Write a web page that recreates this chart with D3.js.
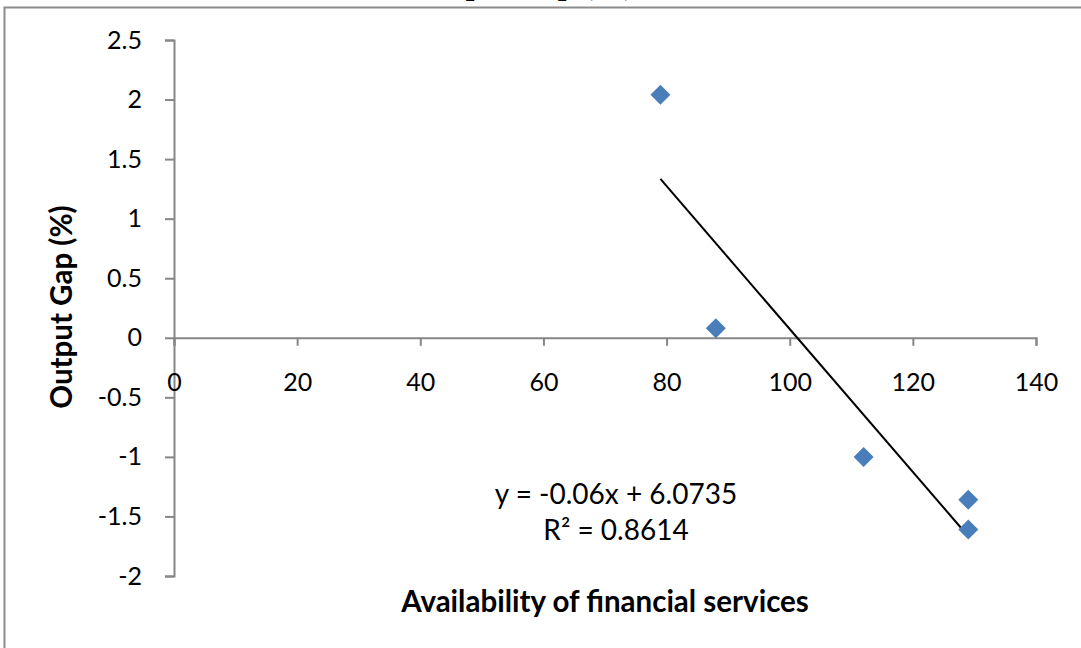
<!DOCTYPE html>
<html>
<head>
<meta charset="utf-8">
<script src="https://cdn.jsdelivr.net/npm/d3@7"></script>
<style>
  html, body { margin: 0; padding: 0; background: #fff; }
  svg { display: block; }
</style>
</head>
<body>
<svg id="chart" width="1081" height="648"></svg>
<script>
// Availability of financial services vs. output gap
const services = [79, 88, 112, 129, 129];
const outputGap = [2.04, 0.08, -1.0, -1.36, -1.61];
const xTicks = [0, 20, 40, 60, 80, 100, 120, 140];
const yTicks = [2.5, 2, 1.5, 1, 0.5, 0, -0.5, -1, -1.5, -2];
const trendSlope = -0.06;
const trendIntercept = 6.0735;
const rSquared = 0.8614;

const svg = d3.select("#chart");
const font = "Lato, 'Open Sans', sans-serif";
const plain = d => String(d);

// chart area border
svg.append("rect")
  .attr("x", 4.5).attr("y", 7.5)
  .attr("width", 1200).attr("height", 800)
  .attr("fill", "none").attr("stroke", "#8c8c8c").attr("stroke-width", 2);

// title (runs above the top edge)
svg.append("text")
  .attr("x", 414).attr("y", -6)
  .attr("font-family", "'Liberation Serif', serif")
  .attr("font-weight", "bold").attr("font-size", 31)
  .text("Output Gap (%)");

const x = d3.scaleLinear().domain([0, 140]).range([174, 1036]);
const y = d3.scaleLinear().domain([-2, 2.5]).range([576, 40]);

// y axis at x = 0
const yAxis = svg.append("g")
  .attr("transform", `translate(${x(0)},0)`)
  .call(d3.axisLeft(y).tickValues(yTicks).tickSize(9).tickPadding(23)
    .tickFormat(plain));
// x axis at y = 0
const xAxis = svg.append("g")
  .attr("transform", `translate(0,${y(0)})`)
  .call(d3.axisBottom(x).tickValues(xTicks).tickSize(8).tickPadding(27)
    .tickFormat(plain));

[yAxis, xAxis].forEach(g => {
  g.select(".domain").attr("stroke", "#868686").attr("stroke-width", 2);
  g.selectAll(".tick line").attr("stroke", "#868686").attr("stroke-width", 2);
  g.selectAll(".tick text")
    .attr("font-family", font).attr("font-size", 25).attr("fill", "#000");
});
xAxis.selectAll(".tick text").attr("dy", "0.71em");

// trendline over the data range
const xr = d3.extent(services);
svg.append("line")
  .attr("x1", x(xr[0])).attr("y1", y(trendSlope * xr[0] + trendIntercept))
  .attr("x2", x(xr[1])).attr("y2", y(trendSlope * xr[1] + trendIntercept))
  .attr("stroke", "#000").attr("stroke-width", 2);

// diamond markers
const diamond = d3.symbol().type(d3.symbolSquare).size(200);
svg.append("g").selectAll("path")
  .data(services.map((s, i) => [s, outputGap[i]]))
  .join("path")
  .attr("d", diamond)
  .attr("transform", d => `translate(${x(d[0])},${y(d[1])}) rotate(45)`)
  .attr("fill", "#4a7ebb");

// regression label
const eq = svg.append("text")
  .attr("font-family", font).attr("font-size", 28)
  .attr("text-anchor", "middle").attr("fill", "#000");
eq.append("tspan").attr("x", 616).attr("y", 504)
  .text(`y = ${trendSlope}x + ${trendIntercept}`);
eq.append("tspan").attr("x", 616).attr("y", 540)
  .text(`R² = ${rSquared}`);

// axis titles
svg.append("text")
  .attr("x", 605).attr("y", 612)
  .attr("text-anchor", "middle")
  .attr("font-family", font).attr("font-weight", "bold").attr("font-size", 29.5)
  .text("Availability of financial services");

svg.append("text")
  .attr("transform", "translate(72,307) rotate(-90)")
  .attr("text-anchor", "middle")
  .attr("font-family", font).attr("font-weight", "bold").attr("font-size", 29.5)
  .text("Output Gap (%)");
</script>
</body>
</html>
